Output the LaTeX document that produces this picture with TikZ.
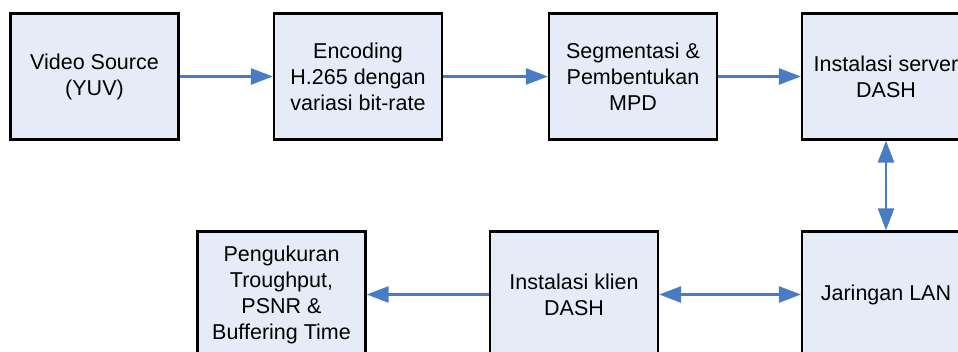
\documentclass[tikz,border=0pt]{standalone}
\usepackage{fontspec}
\setmainfont{Liberation Sans}
\usepackage{tikz}
\usetikzlibrary{arrows.meta}
\definecolor{isikotak}{HTML}{E6ECF7}
\definecolor{birupanah}{HTML}{4A7CC4}

\begin{document}
\begin{tikzpicture}[x=1pt,y=1pt,kotak/.style={rectangle, draw=black, fill=isikotak, line width=2.2pt, minimum width=168pt, minimum height=126pt, align=center, inner sep=0pt, font=\fontsize{21.5}{26}\selectfont}]
            \useasboundingbox (0,0) rectangle (958,352);
            \node[kotak] (src) at (94.5,275.5) {Video Source\\(YUV)};
            \node[kotak] (enc) at (358,275.5) {Encoding\\H.265 dengan\\variasi bit-rate};
            \node[kotak] (seg) at (633,275.5) {Segmentasi \&\\Pembentukan\\MPD};
            \node[kotak] (srv) at (886,275.5) {Instalasi server\\DASH};
            \node[kotak] (lan) at (886,57.5) {Jaringan LAN};
            \node[kotak] (kli) at (574,57.5) {Instalasi klien\\DASH};
            \node[kotak] (ukur) at (281.5,57.5) {Pengukuran\\Troughput,\\PSNR \&\\Buffering Time};
            
            \tikzset{panah/.style={-{Triangle[length=22pt,width=16pt]}, color=birupanah, line width=2.6pt}}
            \tikzset{panahdua/.style={{Triangle[length=22pt,width=16pt]}-{Triangle[length=22pt,width=16pt]}, color=birupanah, line width=2.6pt}}
            
            \draw (src) edge[panah] (enc);
            \draw (enc) edge[panah] (seg);
            \draw (seg) edge[panah] (srv);
            \draw (srv) edge[panahdua] (lan);
            \draw (lan) edge[panahdua] (kli);
            \draw (kli) edge[panah] (ukur);

        \end{tikzpicture}
\end{document}
